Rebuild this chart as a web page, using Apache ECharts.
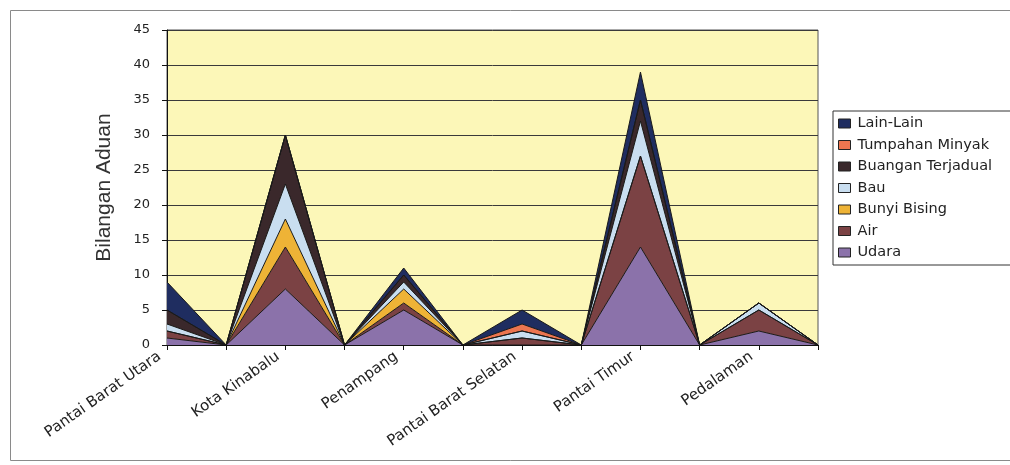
<!DOCTYPE html>
<html>
<head>
<meta charset="utf-8">
<script src="https://cdn.jsdelivr.net/npm/echarts@6/dist/echarts.min.js"></script>
<style>html,body{margin:0;padding:0;background:#fff;}#c{width:1010px;height:465px;}</style>
</head>
<body>
<div id="c"></div>
<script>
// Category points (regions separated by empty gap points that return to zero)
const categories = ['Pantai Barat Utara', '', 'Kota Kinabalu', '', 'Penampang', '', 'Pantai Barat Selatan', '', 'Pantai Timur', '', 'Pedalaman', ''];
const yTicks = [0, 5, 10, 15, 20, 25, 30, 35, 40, 45];

const udara            = [1, 0, 8, 0, 5, 0, 0, 0, 14, 0, 2, 0];
const air              = [1, 0, 6, 0, 1, 0, 1, 0, 13, 0, 3, 0];
const bunyiBising      = [0, 0, 4, 0, 2, 0, 0, 0, 0, 0, 0, 0];
const bau              = [1, 0, 5, 0, 1, 0, 1, 0, 5, 0, 1, 0];
const buanganTerjadual = [2, 0, 7, 0, 1, 0, 0, 0, 3, 0, 0, 0];
const tumpahanMinyak   = [0, 0, 0, 0, 0, 0, 1, 0, 0, 0, 0, 0];
const lainLain         = [4, 0, 0, 0, 1, 0, 2, 0, 4, 0, 0, 0];

const seriesDefs = [
  { name: 'Udara', data: udara, color: '#8b72aa' },
  { name: 'Air', data: air, color: '#7b4244' },
  { name: 'Bunyi Bising', data: bunyiBising, color: '#eeb336' },
  { name: 'Bau', data: bau, color: '#c9def0' },
  { name: 'Buangan Terjadual', data: buanganTerjadual, color: '#3a282b' },
  { name: 'Tumpahan Minyak', data: tumpahanMinyak, color: '#ec7550' },
  { name: 'Lain-Lain', data: lainLain, color: '#1f2d60' }
];

const FONT = 'DejaVu Sans';
const chart = echarts.init(document.getElementById('c'), null, { renderer: 'canvas' });
chart.setOption({
  animation: false,
  backgroundColor: '#ffffff',
  color: seriesDefs.map(s => s.color),
  graphic: [{
    type: 'rect', left: 8, top: 8, silent: true, z: -10,
    shape: { width: 1010, height: 450 },
    style: { fill: 'none', stroke: '#8a8a8a', lineWidth: 1 }
  }],
  grid: {
    left: 167, right: 192, top: 30, bottom: 120,
    show: true, backgroundColor: '#fcf7b8', borderColor: '#555', borderWidth: 1
  },
  legend: {
    orient: 'vertical', left: 833, top: 111,
    data: seriesDefs.map(s => s.name).reverse(),
    icon: 'rect', itemWidth: 12, itemHeight: 9, itemGap: 6.5,
    padding: [5, 40, 5, 5],
    backgroundColor: '#ffffff', borderColor: '#333', borderWidth: 1, borderRadius: 0,
    textStyle: { fontFamily: FONT, fontSize: 14.5, color: '#222', padding: [0, 0, 0, 2] },
    itemStyle: { borderColor: '#222', borderWidth: 1 }
  },
  xAxis: {
    type: 'category', data: categories, boundaryGap: false,
    axisLine: { lineStyle: { color: '#111', width: 1 } },
    axisTick: { show: true, interval: 0, length: 5, lineStyle: { color: '#111' } },
    axisLabel: {
      interval: 1, rotate: 35, fontFamily: FONT, fontSize: 15, color: '#222', margin: 5,
      padding: [0, 9, 0, 0]
    },
    splitLine: { show: false }
  },
  yAxis: {
    type: 'value', min: yTicks[0], max: yTicks[yTicks.length - 1], interval: 5,
    name: 'Bilangan Aduan', nameLocation: 'middle', nameGap: 52, nameRotate: 90,
    nameTextStyle: { fontFamily: 'Liberation Sans', fontSize: 21, color: '#333' },
    axisLine: { show: true, lineStyle: { color: '#111', width: 1 } },
    axisTick: { show: true, length: 5, lineStyle: { color: '#111' } },
    axisLabel: { fontFamily: FONT, fontSize: 13, color: '#222', margin: 17 },
    splitLine: { show: true, lineStyle: { color: '#3a3a3a', width: 1 } }
  },
  series: seriesDefs.map(s => ({
    name: s.name, type: 'line', stack: 'total', data: s.data,
    symbol: 'none', smooth: false,
    lineStyle: { color: '#1a1a1a', width: 1 },
    areaStyle: { color: s.color, opacity: 1 },
    itemStyle: { color: s.color },
    emphasis: { disabled: true }
  }))
});
</script>
</body>
</html>
